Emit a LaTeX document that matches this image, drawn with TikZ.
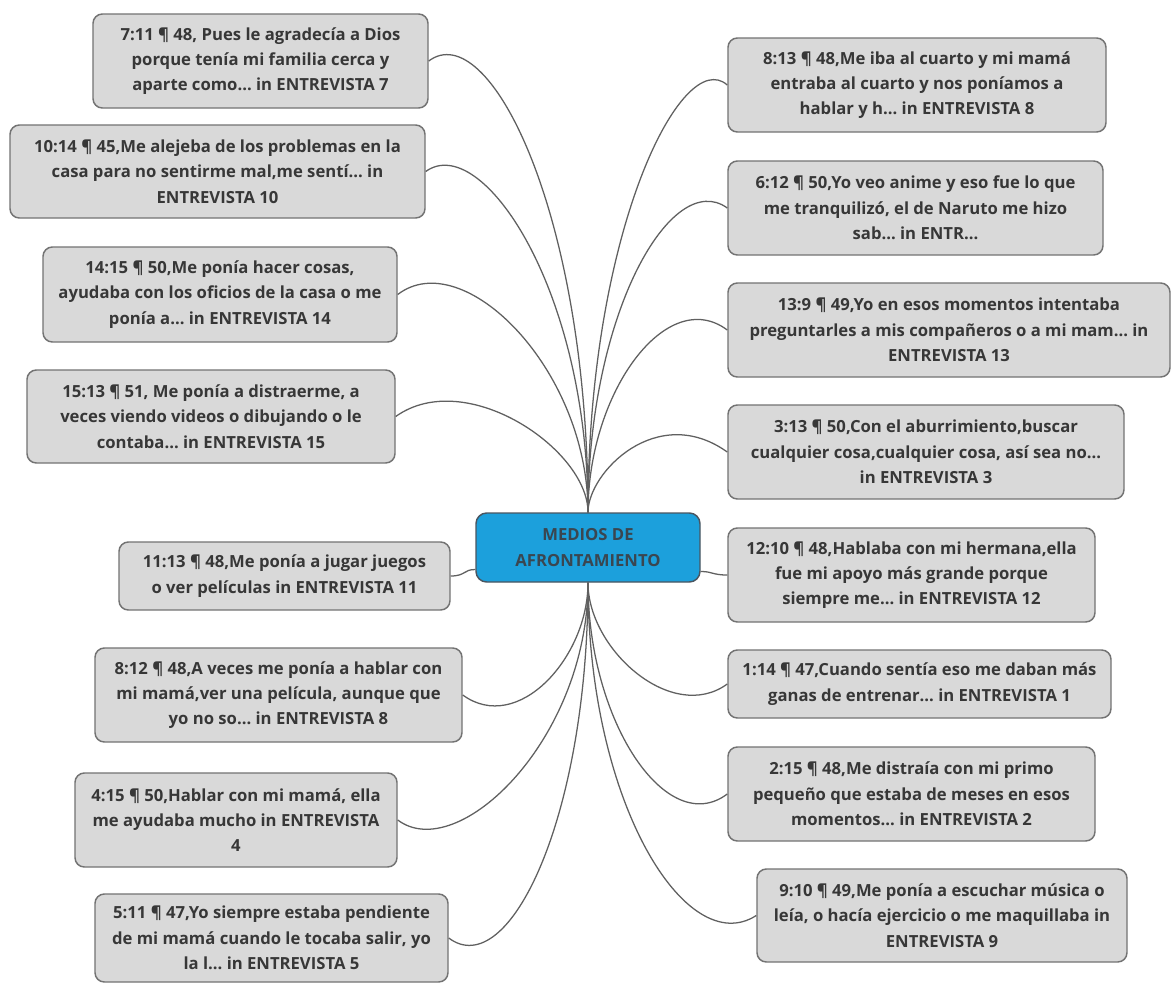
\documentclass[tikz,border=0pt]{standalone}
\usepackage{fontspec}
\setmainfont{Open Sans}
\frenchspacing
\usetikzlibrary{calc}
\definecolor{leaffill}{HTML}{D9D9D9}
\definecolor{leafline}{HTML}{737373}
\definecolor{leaftext}{HTML}{373737}
\definecolor{hubfill}{HTML}{1CA0DC}
\definecolor{hubline}{HTML}{4A5560}
\definecolor{hubtext}{HTML}{3A4650}
\definecolor{wire}{HTML}{606060}
\tikzset{
  x=0.75pt, y=-0.75pt,
  sz/.style 2 args={minimum width=#1*0.75pt, minimum height=#2*0.75pt},
  leaf/.style={draw=leafline, fill=leaffill, line width=1.1pt, rounded corners=7pt,
    text=leaftext, align=center, inner sep=0pt,
    font=\bfseries\fontsize{12.5pt}{19pt}\selectfont},
  hub/.style={draw=hubline, fill=hubfill, line width=1.1pt, rounded corners=8pt,
    text=hubtext, align=center, inner sep=0pt,
    font=\bfseries\fontsize{12.5pt}{19pt}\selectfont},
  wire/.style={draw=wire, line width=0.95pt},
}
\begin{document}
\begin{tikzpicture}
\useasboundingbox[fill=white] (0,0) rectangle (1172,983);

% central topic
\node[hub, sz={224}{69}] (c) at (588,547.5) {MEDIOS DE\\AFRONTAMIENTO};

% left column
\node[leaf, sz={335}{94}] (l1) at (260.5,61) {7:11 ¶ 48, Pues le agradecía a Dios\\porque tenía mi familia cerca y\\aparte como... in ENTREVISTA 7};
\node[leaf, sz={415}{93}] (l2) at (217.5,171.5) {10:14 ¶ 45,Me alejeba de los problemas en la\\casa para no sentirme mal,me sentí... in\\ENTREVISTA 10};
\node[leaf, sz={354}{95}] (l3) at (220,294.5) {14:15 ¶ 50,Me ponía hacer cosas,\\ayudaba con los oficios de la casa o me\\ponía a... in ENTREVISTA 14};
\node[leaf, sz={368}{93}] (l4) at (211,416.5) {15:13 ¶ 51, Me ponía a distraerme, a\\veces viendo videos o dibujando o le\\contaba... in ENTREVISTA 15};
\node[leaf, sz={331}{68}] (l5) at (284.5,576) {11:13 ¶ 48,Me ponía a jugar juegos\\o ver películas in ENTREVISTA 11};
\node[leaf, sz={367}{94}] (l6) at (278.5,695) {8:12 ¶ 48,A veces me ponía a hablar con\\mi mamá,ver una película, aunque que\\yo no so... in ENTREVISTA 8};
\node[leaf, sz={322}{94}] (l7) at (236,820) {4:15 ¶ 50,Hablar con mi mamá, ella\\me ayudaba mucho in ENTREVISTA\\4};
\node[leaf, sz={353}{88}] (l8) at (271.5,938) {5:11 ¶ 47,Yo siempre estaba pendiente\\de mi mamá cuando le tocaba salir, yo\\la l... in ENTREVISTA 5};

% right column
\node[leaf, sz={378}{94}] (r1) at (917,85) {8:13 ¶ 48,Me iba al cuarto y mi mamá\\entraba al cuarto y nos poníamos a\\hablar y h... in ENTREVISTA 8};
\node[leaf, sz={375}{94}] (r2) at (915.5,208) {6:12 ¶ 50,Yo veo anime y eso fue lo que\\me tranquilizó, el de Naruto me hizo\\sab... in ENTR...};
\node[leaf, sz={442}{94}] (r3) at (949,330) {13:9 ¶ 49,Yo en esos momentos intentaba\\preguntarles a mis compañeros o a mi mam... in\\ENTREVISTA 13};
\node[leaf, sz={396}{94}] (r4) at (926,452) {3:13 ¶ 50,Con el aburrimiento,buscar\\cualquier cosa,cualquier cosa, así sea no...\\in ENTREVISTA 3};
\node[leaf, sz={367}{94}] (r5) at (911.5,575) {12:10 ¶ 48,Hablaba con mi hermana,ella\\fue mi apoyo más grande porque\\siempre me... in ENTREVISTA 12};
\node[leaf, sz={383}{68}] (r6) at (919.5,684) {1:14 ¶ 47,Cuando sentía eso me daban más\\ganas de entrenar... in ENTREVISTA 1};
\node[leaf, sz={367}{94}] (r7) at (911.5,794) {2:15 ¶ 48,Me distraía con mi primo\\pequeño que estaba de meses en esos\\momentos... in ENTREVISTA 2};
\node[leaf, sz={370}{93}] (r8) at (942,915.5) {9:10 ¶ 49,Me ponía a escuchar música o\\leía, o hacía ejercicio o me maquillaba in\\ENTREVISTA 9};

% branches rising into the top of the central topic
\draw[wire] (l1.east) .. controls +(60,-45) and +(0,-300) .. (c.north);
\draw[wire] (l2.east) .. controls +(55,-40) and +(0,-225) .. (c.north);
\draw[wire] (l3.east) .. controls +(65,-50) and +(0,-144) .. (c.north);
\draw[wire] (l4.east) .. controls +(70,-50) and +(0,-63) .. (c.north);
\draw[wire] (r1.west) .. controls +(-45,-40) and +(0,-282) .. (c.north);
\draw[wire] (r2.west) .. controls +(-55,-40) and +(0,-201) .. (c.north);
\draw[wire] (r3.west) .. controls +(-60,-45) and +(0,-121) .. (c.north);
\draw[wire] (r4.west) .. controls +(-70,-50) and +(0,-40) .. (c.north);

% side branches
\draw[wire] (l5.east) .. controls +(15,0) and +(-12,0) .. ($(c.west)+(0,22)$);
\draw[wire] (r5.west) .. controls +(-15,0) and +(12,0) .. ($(c.east)+(0,24)$);

% branches hanging from the bottom of the central topic
\draw[wire] (l6.east) .. controls +(55,40) and +(0,75) .. (c.south);
\draw[wire] (l7.east) .. controls +(60,45) and +(0,157) .. (c.south);
\draw[wire] (l8.east) .. controls +(60,45) and +(0,235) .. (c.south);
\draw[wire] (r6.west) .. controls +(-55,40) and +(0,67) .. (c.south);
\draw[wire] (r7.west) .. controls +(-60,45) and +(0,140) .. (c.south);
\draw[wire] (r8.west) .. controls +(-70,45) and +(0,220) .. (c.south);
\end{tikzpicture}
\end{document}
